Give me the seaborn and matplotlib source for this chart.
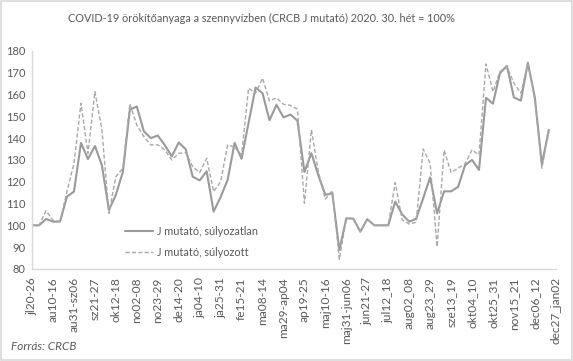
import numpy as np
import pandas as pd
import matplotlib
matplotlib.use("Agg")
import matplotlib.pyplot as plt
import seaborn as sns
from matplotlib.patches import Rectangle

# tengely-feliratok (minden 3. hét)
tick_labels = ["jl20-26", "au10-16", "au31-sz06", "sz21-27", "ok12-18", "no02-08",
               "no23-29", "de14-20", "ja04-10", "ja25-31", "fe15-21", "ma08-14",
               "ma29-ap04", "ap19-25", "maj10-16", "maj31-jun06", "jun21-27",
               "jul12_18", "aug02_08", "aug23_29", "sze13_19", "okt04_10",
               "okt25_31", "nov15_21", "dec06_12", "dec27_jan02"]

# J mutató, súlyozatlan
unweighted = [100, 100, 102.9, 101.7, 101.7, 113.2, 115.5, 137.8, 130.4, 136.4,
              127.5, 107, 114, 124.5, 153, 154.5, 143.2, 140, 141.2, 136.8,
              131.6, 138, 134.9, 122.3, 120.6, 124.8, 106.3, 113, 120.8, 137.8,
              130.5, 147, 163.2, 160.6, 148.2, 155.3, 149.5, 150.8, 148, 124.5,
              133.1, 122.8, 114, 114.7, 88.7, 103.2, 103.1, 97.1, 102.8, 100,
              100, 100, 110.9, 105, 101.7, 103, 112.4, 122, 105.5, 115.6,
              115.6, 117.6, 127.5, 130, 125.4, 158.5, 155.8, 169.8, 173.1, 158.7,
              157.2, 174.6, 158.6, 128, 143.8]

# J mutató, súlyozott
weighted = [100, 100, 106.7, 102.3, 101.8, 115.5, 128.5, 156, 133, 161.3,
            143.8, 105.5, 122.3, 126.2, 155.7, 146, 140.7, 136.9, 136.9, 134.6,
            130, 133, 133.3, 127, 124.2, 130.8, 115.5, 120, 136.9, 135.8,
            132.3, 162.9, 160.6, 167.5, 157, 158.5, 155.5, 155, 153.3, 110.1,
            143.8, 124.5, 112, 116, 84.4, 103.2, 103, 97, 103, 100,
            100, 100, 119.6, 102.5, 100.6, 101.4, 135, 128.5, 90.2, 134.5,
            124.2, 126.2, 128.2, 134.6, 132.3, 174, 161.3, 170.5, 172.8, 165.2,
            160.6, 174.4, 157.5, 126.2, 143]

n_weeks = 76
df = pd.DataFrame({"week": np.arange(len(unweighted)),
                   "súlyozatlan": unweighted,
                   "súlyozott": weighted})

sns.set_style("white")
plt.rcParams["font.family"] = ["Lato", "DejaVu Sans"]
txt = "#595959"

fig = plt.figure(figsize=(5.73, 3.61), dpi=100)
ax = fig.add_axes([0.056, 0.255, 0.914, 0.604])

sns.lineplot(data=df, x="week", y="súlyozatlan", ax=ax, color="#9a9a9a",
             linewidth=1.5, label="J mutató, súlyozatlan")
sns.lineplot(data=df, x="week", y="súlyozott", ax=ax, color="#a8a8a8",
             linewidth=1.0, linestyle=(0, (3, 1.6)), label="J mutató, súlyozott")

ax.set_xlim(0, n_weeks - 1)
ax.set_ylim(80, 180)
ax.set_yticks(range(80, 181, 10))
ax.set_xticks(range(0, n_weeks, 3))
ax.set_xticklabels(tick_labels, rotation=90)
ax.set_xlabel("")
ax.set_ylabel("")
ax.tick_params(length=0, colors=txt)
ax.tick_params(axis="x", labelsize=8.6, pad=6)
ax.tick_params(axis="y", labelsize=8, pad=5)
for s in ["top", "right"]:
    ax.spines[s].set_visible(False)
for s in ["left", "bottom"]:
    ax.spines[s].set_color("#d9d9d9")
    ax.spines[s].set_linewidth(1.0)

ax.legend(loc="center left", bbox_to_anchor=(0.158, 0.125), frameon=False,
          fontsize=7.8, handlelength=2.6, handletextpad=0.4, labelspacing=0.9,
          labelcolor=txt)

fig.text(0.456, 0.95, "COVID-19 örökítőanyaga a szennyvízben (CRCB J mutató) 2020. 30. hét = 100%",
         ha="center", va="center", fontsize=7.8, color=txt)
fig.text(0.02, 0.04, "Forrás: CRCB", ha="left", va="center", fontsize=8.5,
         color=txt, style="italic")

fig.patches.append(Rectangle((0.002, 0.003), 0.996, 0.994, transform=fig.transFigure,
                             fill=False, edgecolor="#d9d9d9", linewidth=1.2))

fig.savefig("out.png", dpi=100)
